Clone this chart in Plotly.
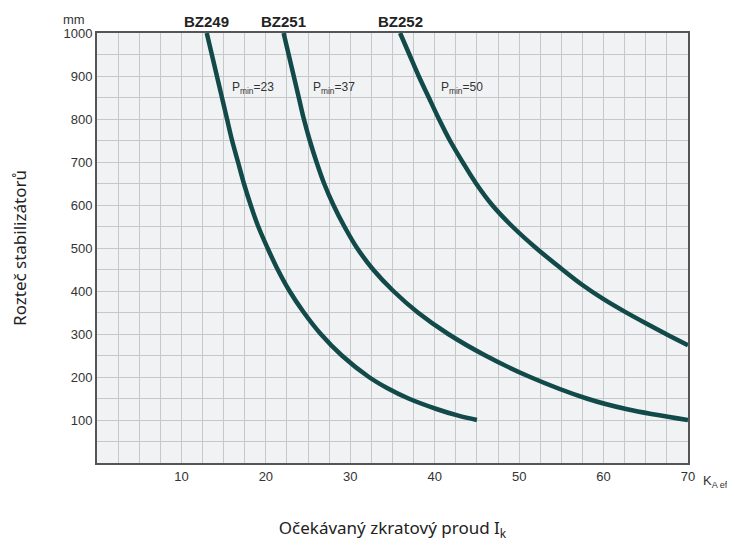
import plotly.graph_objects as go

# curves: prospective short-circuit current (kA) vs spacing (mm)
bz249_x = [13.0, 13.6, 14.2, 14.8, 15.4, 16.0, 16.7, 17.4, 18.2, 19.1, 20.2, 21.4, 22.8, 24.5, 26.5, 29.0, 32.2, 34.3, 36.9, 40.3, 42.8, 45.0]
bz249_y = [1000, 950, 900, 850, 800, 750, 700, 650, 600, 550, 500, 450, 400, 350, 300, 250, 200, 175, 150, 125, 110, 100]

bz251_x = [22.1, 22.7, 23.3, 23.9, 24.5, 25.2, 26.0, 26.9, 28.0, 29.3, 30.8, 32.7, 35.1, 38.0, 41.6, 46.0, 51.3, 58.0, 62.8, 70.0]
bz251_y = [1000, 950, 900, 850, 800, 750, 700, 650, 600, 550, 500, 450, 400, 350, 300, 250, 200, 150, 125, 100]

bz252_x = [35.9, 37.0, 38.1, 39.3, 40.5, 41.8, 43.3, 44.9, 46.8, 49.2, 52.0, 55.0, 57.5, 60.0, 62.5, 65.0, 67.5, 70.0]
bz252_y = [1000, 950, 900, 850, 800, 750, 700, 650, 600, 550, 500, 452, 414, 381, 352, 325, 299, 274]

series_names = ["BZ249", "BZ251", "BZ252"]
pmin_labels = ["P<sub>min</sub>=23", "P<sub>min</sub>=37", "P<sub>min</sub>=50"]
pmin_x = [15.7, 25.4, 40.5]

x_ticks = [10, 20, 30, 40, 50, 60, 70]
y_ticks = [100, 200, 300, 400, 500, 600, 700, 800, 900, 1000]

line_color = "#124a4a"
tick_font = dict(family="Liberation Sans, Arial, sans-serif", size=13, color="#333333")

fig = go.Figure()
for xs, ys, name in zip([bz249_x, bz251_x, bz252_x], [bz249_y, bz251_y, bz252_y], series_names):
    fig.add_trace(go.Scatter(x=xs, y=ys, mode="lines", name=name,
                             line=dict(color=line_color, width=4.5, shape="spline", smoothing=1)))

# series names above the plot
for xs, name in zip([bz249_x, bz251_x, bz252_x], series_names):
    fig.add_annotation(x=xs[0], y=1000, yshift=1, yanchor="bottom", text="<b>" + name + "</b>", showarrow=False,
                       font=dict(family="Liberation Sans, Arial, sans-serif", size=15, color="#222222"))

for px, label in zip(pmin_x, pmin_labels):
    fig.add_annotation(x=px, y=873, text=label, showarrow=False, xanchor="left",
                       font=dict(family="Liberation Sans, Arial, sans-serif", size=12, color="#333333"))

fig.add_annotation(xref="paper", yref="paper", x=0, xshift=-10, y=1.0, yshift=4, yanchor="bottom",
                   text="mm", showarrow=False, xanchor="right", font=tick_font)
fig.add_annotation(xref="paper", yref="paper", x=1.0, y=0, xshift=13, yshift=-18, text="K<sub>A eff</sub>",
                   showarrow=False, xanchor="left", yanchor="middle", font=tick_font)

grid_x = [2.5 * i for i in range(29)]
grid_y = [50 * i for i in range(21)]

fig.update_xaxes(range=[0, 70], tickvals=grid_x,
                 ticktext=[str(int(v)) if v in x_ticks else "" for v in grid_x],
                 showgrid=True, gridcolor="#c6c7c9", gridwidth=1, ticks="", tickfont=tick_font,
                 showline=True, linecolor="#555555", linewidth=2, mirror=True, zeroline=False,
                 automargin=False,
                 title=dict(text="Očekávaný zkratový proud I<sub>k</sub>", standoff=40,
                            font=dict(family="Noto Sans, sans-serif", size=17, color="#222222")))
fig.update_yaxes(range=[0, 1000], tickvals=grid_y,
                 ticktext=[str(v) if v in y_ticks else "" for v in grid_y],
                 showgrid=True, gridcolor="#c6c7c9", gridwidth=1, ticks="", tickfont=tick_font,
                 showline=True, linecolor="#555555", linewidth=2, mirror=True, zeroline=False,
                 automargin=False,
                 title=dict(text="Rozteč stabilizátorů", standoff=33,
                            font=dict(family="Noto Sans, sans-serif", size=17, color="#222222")))

# page body adds an 8px offset, so the figure is 8px smaller and shifted margins
fig.update_layout(width=727, height=537, margin=dict(l=89, r=47, t=25, b=82),
                  plot_bgcolor="#f1f2f4", paper_bgcolor="white", showlegend=False)

fig.write_html("out.html")
